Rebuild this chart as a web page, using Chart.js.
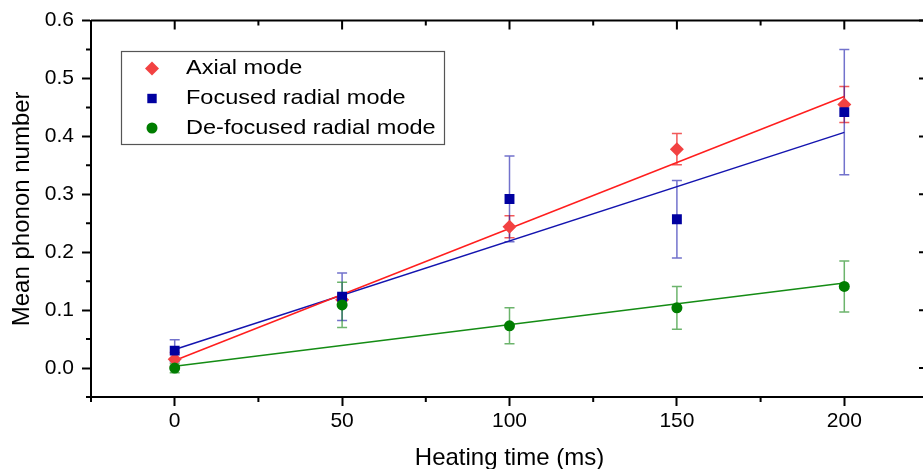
<!DOCTYPE html>
<html lang="en">
  <head>
    <meta charset="UTF-8" />
    <title>Mean phonon number vs heating time</title>
    <script src="https://cdn.jsdelivr.net/npm/chart.js@4.4.1/dist/chart.umd.min.js"></script>
    <style>
      * {
        margin: 0;
        padding: 0;
        box-sizing: border-box;
      }
      body {
        width: 923px;
        height: 469px;
        overflow: hidden;
        background: #ffffff;
      }
      .wrap {
        position: relative;
        width: 940px;
        height: 480px;
      }
    </style>
  </head>
  <body>
    <div class="wrap">
      <canvas id="chart" width="940" height="480"></canvas>
    </div>
    <script>
      // data
      const heatTimes = [0, 50, 100, 150, 200];
      const axial = [0.015, 0.118, 0.244, 0.378, 0.455];
      const axialErr = [0.012, 0.010, 0.019, 0.027, 0.031];
      const focused = [0.030, 0.123, 0.292, 0.257, 0.442];
      const focusedErr = [0.019, 0.041, 0.074, 0.067, 0.108];
      const defocused = [0.000, 0.109, 0.073, 0.104, 0.141];
      const defocusedErr = [0.008, 0.039, 0.031, 0.037, 0.044];

      // fitted straight lines (end points)
      const fitTimes = [0, 200];
      const axialFit = [0.013, 0.469];
      const focusedFit = [0.032, 0.407];
      const defocusedFit = [0.003, 0.147];

      const xTicks = [0, 50, 100, 150, 200];
      const xMinor = [-25, 25, 75, 125, 175, 225];
      const yTicks = [0, 0.1, 0.2, 0.3, 0.4, 0.5, 0.6];
      const yMinor = [-0.05, 0.05, 0.15, 0.25, 0.35, 0.45, 0.55];

      const FONT = "Liberation Sans, Arial, sans-serif";

      const pts = (xs, ys) => xs.map((x, i) => ({ x: x, y: ys[i] }));

      const series = [
        {
          label: "Axial mode",
          values: axial,
          err: axialErr,
          style: "rectRot",
          radius: 7,
          fill: "rgb(242,66,66)",
          errColor: "rgba(240,60,60,0.85)",
          order: 3,
        },
        {
          label: "Focused radial mode",
          values: focused,
          err: focusedErr,
          style: "rect",
          radius: 7,
          fill: "rgb(0,0,160)",
          errColor: "rgba(20,20,170,0.6)",
          order: 2,
        },
        {
          label: "De-focused radial mode",
          values: defocused,
          err: defocusedErr,
          style: "circle",
          radius: 5.5,
          fill: "rgb(0,125,0)",
          errColor: "rgba(10,130,10,0.6)",
          order: 1,
        },
      ];

      const fits = [
        { values: axialFit, color: "rgb(255,30,30)" },
        { values: focusedFit, color: "rgb(20,20,175)" },
        { values: defocusedFit, color: "rgb(20,140,20)" },
      ];

      let datasets = [];
      fits.forEach((f) => {
        datasets.push({
          type: "line",
          data: pts(fitTimes, f.values),
          borderColor: f.color,
          borderWidth: 1.5,
          pointRadius: 0,
          fill: false,
          order: 10,
        });
      });
      series.forEach((s) => {
        datasets.push({
          type: "scatter",
          label: s.label,
          data: pts(heatTimes, s.values),
          pointStyle: s.style,
          pointRadius: s.radius,
          pointHoverRadius: s.radius,
          backgroundColor: s.fill,
          borderColor: s.fill,
          borderWidth: 0,
          order: s.order,
        });
      });

      // error bars, drawn under the markers
      const errorBars = {
        id: "errorBars",
        beforeDatasetsDraw(chart) {
          const ctx = chart.ctx;
          const xs = chart.scales.x;
          const ys = chart.scales.y;
          ctx.save();
          ctx.lineWidth = 1.5;
          series.forEach((s) => {
            ctx.strokeStyle = s.errColor;
            heatTimes.forEach((t, i) => {
              const px = xs.getPixelForValue(t);
              const top = ys.getPixelForValue(s.values[i] + s.err[i]);
              const bot = ys.getPixelForValue(s.values[i] - s.err[i]);
              ctx.beginPath();
              ctx.moveTo(px, top);
              ctx.lineTo(px, bot);
              ctx.moveTo(px - 5, top);
              ctx.lineTo(px + 5, top);
              ctx.moveTo(px - 5, bot);
              ctx.lineTo(px + 5, bot);
              ctx.stroke();
            });
          });
          ctx.restore();
        },
      };

      // box frame, inward ticks on top/right, minor ticks everywhere
      const frame = {
        id: "frame",
        afterDraw(chart) {
          const ctx = chart.ctx;
          const a = chart.chartArea;
          const xs = chart.scales.x;
          const ys = chart.scales.y;
          ctx.save();
          ctx.strokeStyle = "#000";
          ctx.lineWidth = 2;
          ctx.beginPath();
          ctx.moveTo(a.left, a.top);
          ctx.lineTo(a.right, a.top);
          ctx.lineTo(a.right, a.bottom);
          ctx.stroke();

          ctx.beginPath();
          xTicks.forEach((v) => {
            const px = xs.getPixelForValue(v);
            ctx.moveTo(px, a.top);
            ctx.lineTo(px, a.top + 9);
          });
          xMinor.forEach((v) => {
            const px = xs.getPixelForValue(v);
            ctx.moveTo(px, a.top);
            ctx.lineTo(px, a.top + 5);
            ctx.moveTo(px, a.bottom);
            ctx.lineTo(px, a.bottom + 5);
          });
          yTicks.forEach((v) => {
            const py = ys.getPixelForValue(v);
            ctx.moveTo(a.right, py);
            ctx.lineTo(a.right - 9, py);
          });
          yMinor.forEach((v) => {
            const py = ys.getPixelForValue(v);
            ctx.moveTo(a.right, py);
            ctx.lineTo(a.right - 5, py);
            ctx.moveTo(a.left, py);
            ctx.lineTo(a.left - 5, py);
          });
          ctx.stroke();
          ctx.restore();
        },
      };

      // legend box inside the plot
      const boxLegend = {
        id: "boxLegend",
        afterDraw(chart) {
          const ctx = chart.ctx;
          ctx.save();
          ctx.fillStyle = "#fff";
          ctx.fillRect(121, 51, 323, 93);
          ctx.strokeStyle = "#555";
          ctx.lineWidth = 1.2;
          ctx.strokeRect(121.5, 51.5, 323, 93);
          const rows = [68.5, 98.5, 128];
          series.forEach((s, i) => {
            const y = rows[i];
            ctx.fillStyle = s.fill;
            ctx.beginPath();
            if (s.style === "circle") {
              ctx.arc(152, y, s.radius, 0, Math.PI * 2);
            } else if (s.style === "rect") {
              ctx.rect(152 - 4.7, y - 4.7, 9.4, 9.4);
            } else {
              ctx.moveTo(152, y - 7);
              ctx.lineTo(159, y);
              ctx.lineTo(152, y + 7);
              ctx.lineTo(145, y);
              ctx.closePath();
            }
            ctx.fill();
            ctx.fillStyle = "#000";
            ctx.font = "21px " + FONT;
            ctx.textBaseline = "middle";
            ctx.textAlign = "left";
            ctx.save();
            ctx.translate(186, y);
            ctx.scale(1.12, 1);
            ctx.fillText(s.label, 0, 0);
            ctx.restore();
          });
          ctx.restore();
        },
      };

      new Chart(document.getElementById("chart"), {
        type: "scatter",
        data: { datasets: datasets },
        plugins: [errorBars, frame, boxLegend],
        options: {
          responsive: false,
          animation: false,
          events: [],
          layout: { padding: { top: 20, right: 12, left: 0, bottom: 0 } },
          plugins: {
            legend: { display: false },
            tooltip: { enabled: false },
          },
          scales: {
            x: {
              type: "linear",
              min: -25,
              max: 225,
              afterFit: (s) => {
                s.height = 83;
              },
              afterBuildTicks: (s) => {
                s.ticks = xTicks.map((v) => ({ value: v }));
              },
              grid: {
                drawOnChartArea: false,
                drawTicks: true,
                tickLength: 9,
                tickColor: "#000",
                tickWidth: 2,
              },
              border: { display: true, color: "#000", width: 2 },
              ticks: {
                color: "#000",
                padding: 3,
                font: { family: FONT, size: 21 },
                callback: (v) => String(v),
              },
              title: {
                display: true,
                text: "Heating time (ms)",
                color: "#000",
                font: { family: FONT, size: 24 },
                padding: { top: 0, bottom: 7 },
              },
            },
            y: {
              type: "linear",
              min: -0.05,
              max: 0.6,
              afterFit: (s) => {
                s.width = 91;
              },
              afterBuildTicks: (s) => {
                s.ticks = yTicks.map((v) => ({ value: v }));
              },
              grid: {
                drawOnChartArea: false,
                drawTicks: true,
                tickLength: 9,
                tickColor: "#000",
                tickWidth: 2,
              },
              border: { display: true, color: "#000", width: 2 },
              ticks: {
                color: "#000",
                padding: 8,
                font: { family: FONT, size: 21 },
                callback: (v) => Number(v).toFixed(1),
              },
              title: {
                display: true,
                text: "Mean phonon number",
                color: "#000",
                font: { family: FONT, size: 24 },
                padding: { top: 8, bottom: 0 },
              },
            },
          },
        },
      });
    </script>
  </body>
</html>
